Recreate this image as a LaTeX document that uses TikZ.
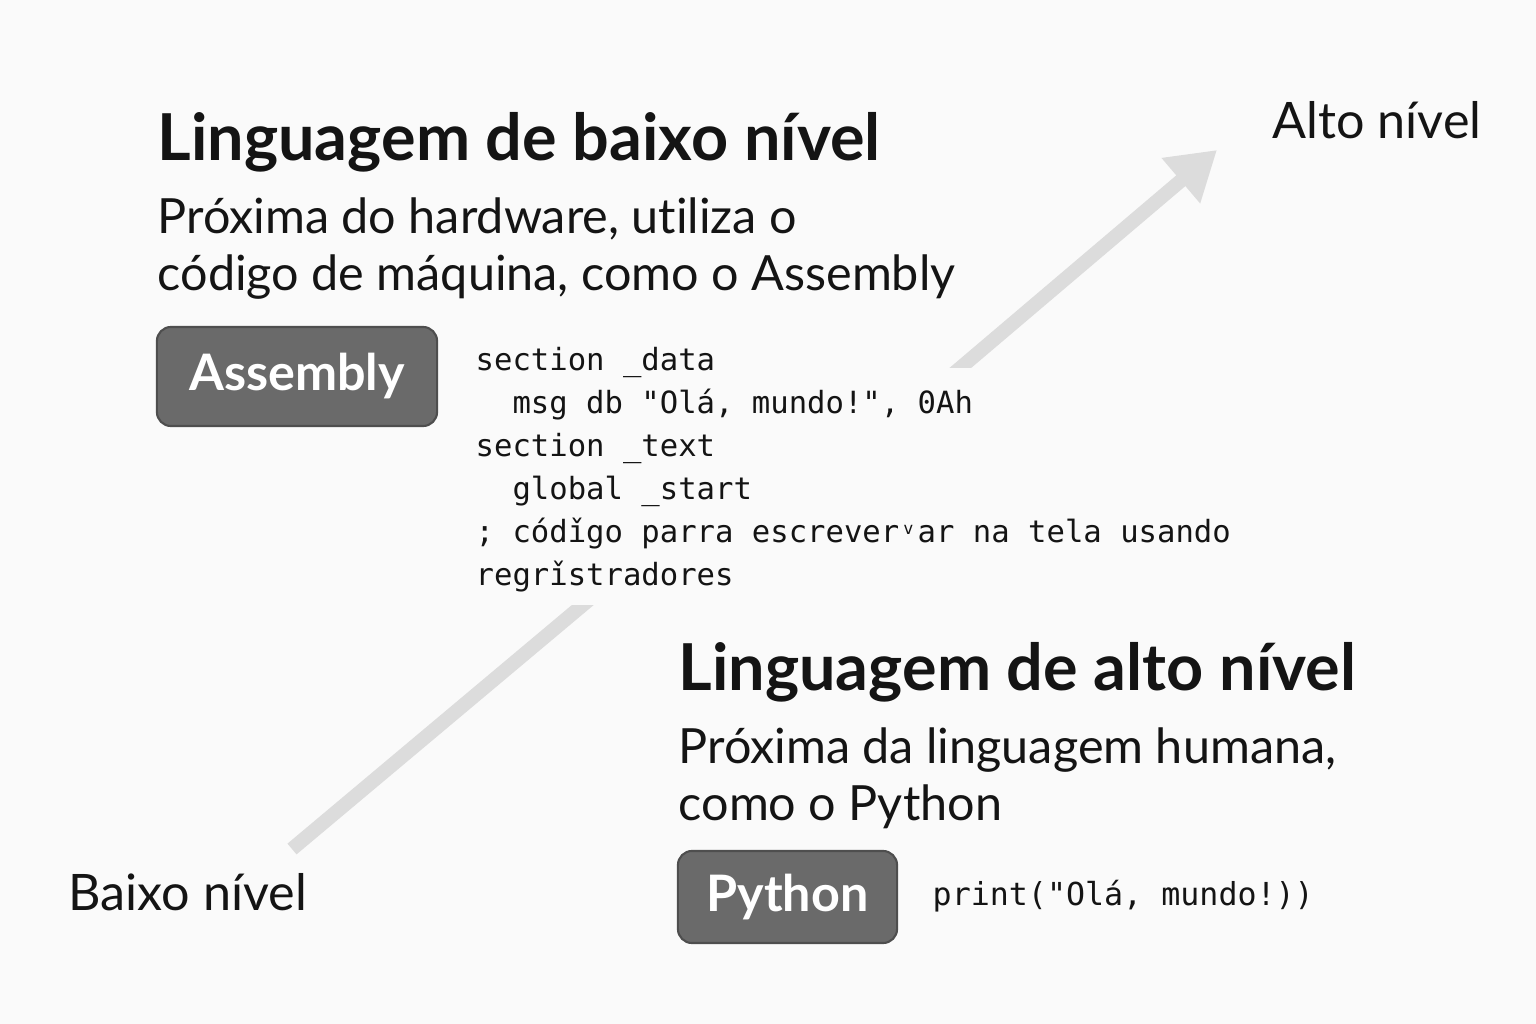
\documentclass[tikz,border=0pt]{standalone}
\usepackage{fontspec}
\setmainfont{Lato}[Ligatures=NoCommon]
\setmonofont{DejaVu Sans Mono}
\usetikzlibrary{arrows.meta}
\definecolor{bg}{HTML}{FAFAFA}
\definecolor{ink}{HTML}{141414}
\definecolor{boxgray}{HTML}{6A6A6A}
\definecolor{boxedge}{HTML}{4E4E4E}
\definecolor{trendgray}{HTML}{DCDCDC}
\tikzset{
  txt/.style={anchor=base west,inner sep=0pt,text=ink,align=left},
  title/.style={txt,font=\bfseries\fontsize{18.4}{22}\selectfont},
  desc/.style={txt,font=\fontsize{13.8}{16.2}\selectfont},
  side/.style={txt,font=\fontsize{14.3}{17}\selectfont},
  code/.style={txt,font=\ttfamily\fontsize{8.7}{12.2}\selectfont},
  langbox/.style={fill=boxgray,draw=boxedge,line width=0.6pt,rounded corners=4pt,
    text=white,font=\fontsize{14.3}{17}\selectfont\bfseries},
  trend/.style={draw=trendgray,line width=4pt},
  trendtip/.style={trend,-{Triangle[length=13.5pt,width=16pt]}}
}
\begin{document}
\begin{tikzpicture}[x=0.01cm,y=-0.01cm]
\fill[bg] (0,0) rectangle (1536,1024);
\useasboundingbox (0,0) rectangle (1536,1024);

% diagonal arrow in two pieces, hidden behind the code
\coordinate (low) at (292,849);
\coordinate (lowcut) at (640,557);
\coordinate (highcut) at (899,420);
\coordinate (high) at (1217,150);
\draw[trend] (low) -- (lowcut);
\draw[trendtip] (highcut) -- (high);
\fill[bg] (460,368) rectangle (1250,605);

\node[side] (altolbl) at (1272,138) {Alto nível};
\node[side] (baixolbl) at (68,910) {Baixo nível};

% low level (multi-line texts sit on their last baseline)
\node[title] (lowtitle) at (157,160) {Linguagem de baixo nível};
\node[desc] (lowdesc) at (157,290) {Próxima do hardware, utiliza o\\código de máquina, como o Assembly};
\node[langbox,minimum width=2.8cm,minimum height=0.99cm] (asm) at (297,376.5) {Assembly};
\node[code] (asmcode) at (475,585) {section \_data\\
\ \ msg db "Olá, mundo!", 0Ah\\
section \_text\\
\ \ global \_start\\
; códǐgo parra escrever\makebox[0.6em]{\raisebox{0.45ex}{\scalebox{0.55}{v}}}ar na tela usando\\
regrǐstradores};

% high level
\node[title] (hightitle) at (678,690) {Linguagem de alto nível};
\node[desc] (highdesc) at (678,820) {Próxima da linguagem humana,\\como o Python};
\node[langbox,minimum width=2.19cm,minimum height=0.92cm] (py) at (787.5,897) {Python};
\node[code,font=\ttfamily\fontsize{9}{12}\selectfont] (pycode) at (932,905) {print("Olá, mundo!))};
\end{tikzpicture}
\end{document}
